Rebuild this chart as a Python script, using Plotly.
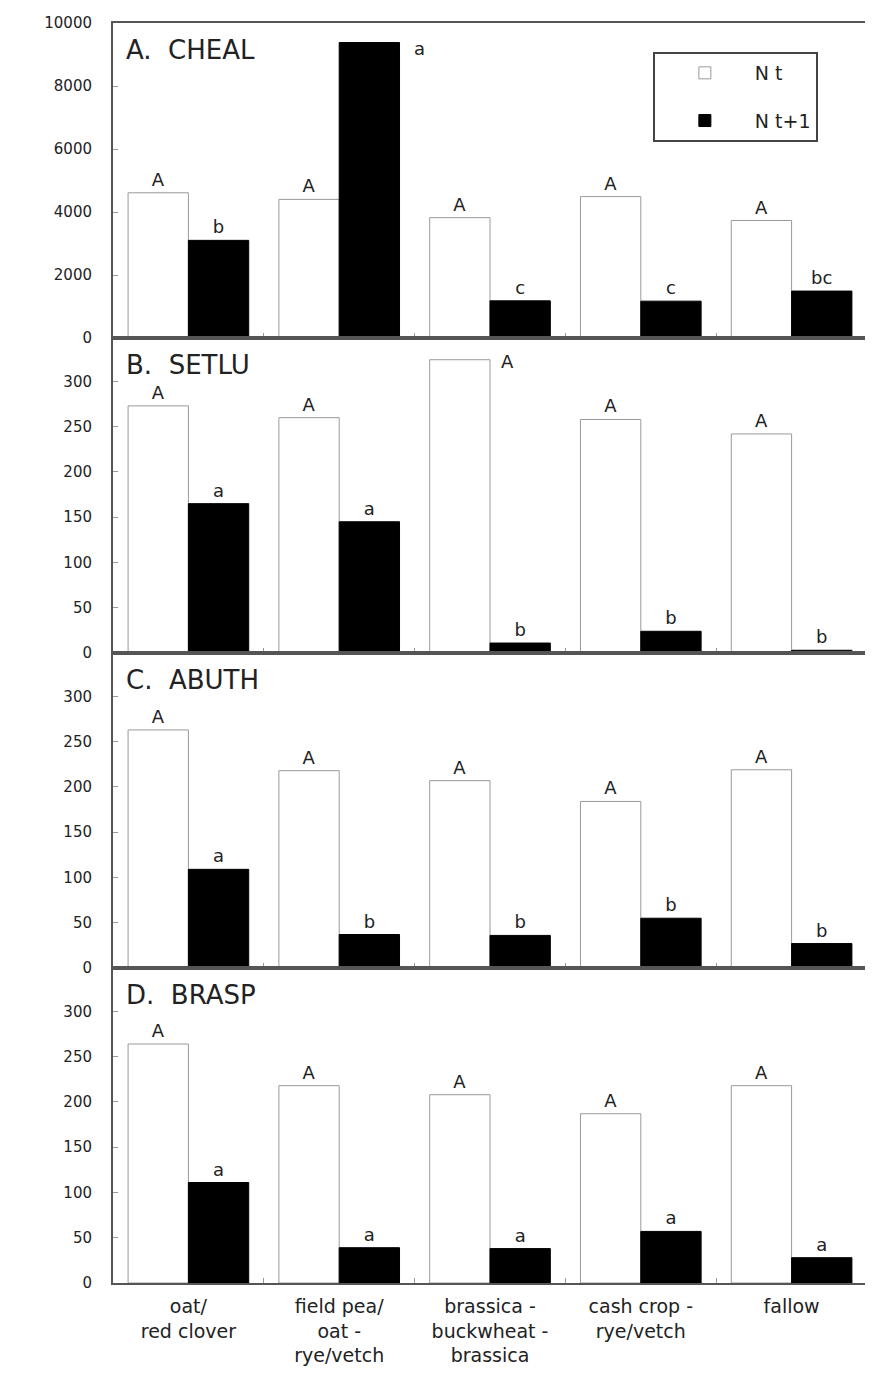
import plotly.graph_objects as go
from plotly.subplots import make_subplots

# ---------------- data ----------------
categories = ["oat/<br>red clover", "field pea/<br>oat -<br>rye/vetch",
              "brassica -<br>buckwheat -<br>brassica", "cash crop -<br>rye/vetch", "fallow"]

series_names = ["N t", "N t+1"]
panel_titles = ["A.  CHEAL", "B.  SETLU", "C.  ABUTH", "D.  BRASP"]

cheal_nt = [4610, 4400, 3820, 4490, 3730]
cheal_nt1 = [3100, 9380, 1180, 1170, 1490]
setlu_nt = [273, 260, 324, 258, 242]
setlu_nt1 = [165, 145, 11, 24, 3]
abuth_nt = [263, 218, 207, 184, 219]
abuth_nt1 = [109, 37, 36, 55, 27]
brasp_nt = [264, 218, 208, 187, 218]
brasp_nt1 = [111, 39, 38, 57, 28]

cheal_nt_letters = ["A", "A", "A", "A", "A"]
cheal_nt1_letters = ["b", "a", "c", "c", "bc"]
setlu_nt_letters = ["A", "A", "A", "A", "A"]
setlu_nt1_letters = ["a", "a", "b", "b", "b"]
abuth_nt_letters = ["A", "A", "A", "A", "A"]
abuth_nt1_letters = ["a", "b", "b", "b", "b"]
brasp_nt_letters = ["A", "A", "A", "A", "A"]
brasp_nt1_letters = ["a", "a", "a", "a", "a"]

y_ranges = [[0, 10000], [0, 348], [0, 348], [0, 348]]
y_dticks = [2000, 50, 50, 50]

panels = [
    (cheal_nt, cheal_nt1, cheal_nt_letters, cheal_nt1_letters),
    (setlu_nt, setlu_nt1, setlu_nt_letters, setlu_nt1_letters),
    (abuth_nt, abuth_nt1, abuth_nt_letters, abuth_nt1_letters),
    (brasp_nt, brasp_nt1, brasp_nt_letters, brasp_nt1_letters),
]

# letters that sit beside (not above) their bar: (panel, series, category index) -> (xshift px, y value)
side_letters = {(0, 1, 1): (80, 9200), (1, 0, 2): (17, 322)}

FONT = "DejaVu Sans"
LINE = "#555555"

fig = make_subplots(rows=4, cols=1, shared_xaxes=True, vertical_spacing=0)

for p, (nt, nt1, lt, lt1) in enumerate(panels):
    row = p + 1
    xr = "x" if row == 1 else f"x{row}"
    yr = "y" if row == 1 else f"y{row}"
    for s, (vals, lets) in enumerate([(nt, lt), (nt1, lt1)]):
        texts = ["" if (p, s, i) in side_letters else t for i, t in enumerate(lets)]
        fig.add_trace(go.Bar(
            x=categories, y=vals, name=series_names[s],
            text=texts, textposition="outside", cliponaxis=False,
            constraintext="none",
            textfont=dict(family=FONT, size=18, color="#222"),
            marker=dict(color="white" if s == 0 else "black",
                        line=dict(color="#9a9a9a" if s == 0 else "black", width=1)),
            showlegend=(p == 0), legendgroup=series_names[s],
            hoverinfo="x+y",
        ), row=row, col=1)
        for i, t in enumerate(lets):
            if (p, s, i) in side_letters:
                xs, yv = side_letters[(p, s, i)]
                fig.add_annotation(x=categories[i], y=yv, text=t, showarrow=False,
                                   xshift=xs, font=dict(family=FONT, size=18, color="#222"),
                                   xref=xr, yref=yr)
    fig.add_annotation(text=panel_titles[p], x=0.014, y=0.915, xanchor="left", yanchor="middle",
                       showarrow=False, font=dict(family=FONT, size=26, color="#222"),
                       xref=xr + " domain", yref=yr + " domain")
    fig.update_yaxes(range=y_ranges[p], dtick=y_dticks[p], row=row, col=1)

fig.update_yaxes(showgrid=False, zeroline=False, showline=True, mirror=True, automargin=False,
                 linecolor=LINE, linewidth=2, ticks="inside", ticklen=5, tickcolor="#999",
                 tickformat="d",
                 tickfont=dict(family=FONT, size=15, color="#222"), ticklabelstandoff=16)
fig.update_xaxes(showgrid=False, zeroline=False, showline=True, mirror=True, automargin=False,
                 linecolor=LINE, linewidth=2, ticks="inside", ticklen=5, tickcolor="#999",
                 tickson="boundaries", ticklabelstandoff=5,
                 tickfont=dict(family=FONT, size=19, color="#222"))

fig.update_layout(
    width=865, height=1361,
    margin=dict(l=105, r=6, t=15, b=86),
    paper_bgcolor="white", plot_bgcolor="white",
    barmode="group", bargap=0.2, bargroupgap=0.0,
    font=dict(family=FONT, color="#222"),
    legend=dict(x=0.716, y=0.977, xanchor="left", yanchor="top",
                bgcolor="white", bordercolor="#444", borderwidth=2,
                font=dict(family=FONT, size=19, color="#222"),
                traceorder="grouped", tracegroupgap=20, itemwidth=90),
)

fig.write_html("out.html")
